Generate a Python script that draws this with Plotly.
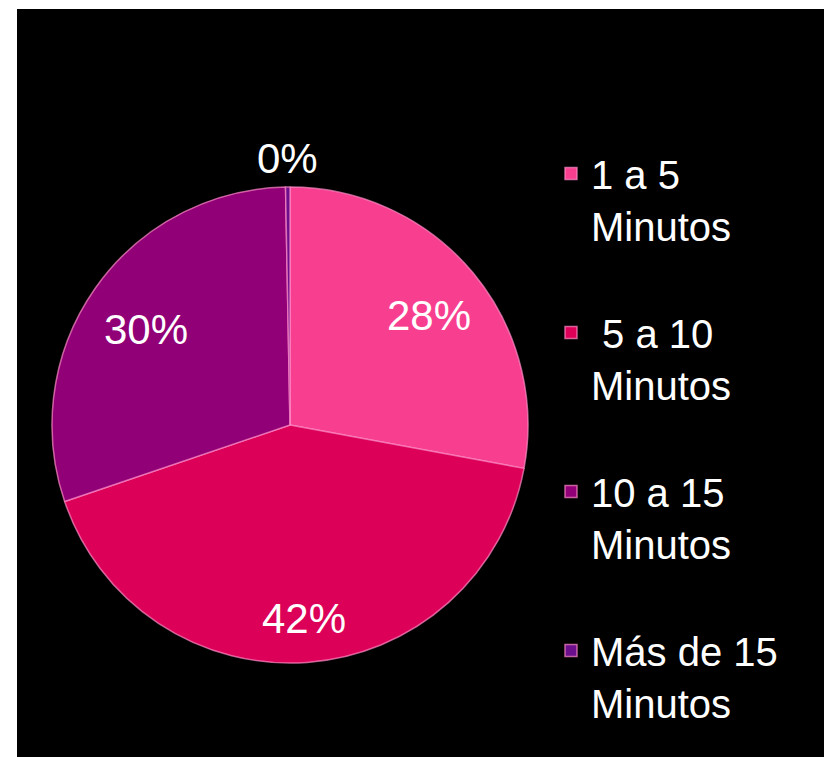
import math
import plotly.graph_objects as go

labels = ["1 a 5<br>Minutos<br> ", " 5 a 10<br>Minutos<br> ", "10 a 15<br>Minutos<br> ", "Más de 15<br>Minutos"]
values = [28, 42, 30, 0.3]
pct_labels = ["28%", "42%", "30%", "0%"]
colors = ["#F73E8F", "#DC0058", "#920077", "#6B0F8C"]
label_radius = [0.76, 0.79, 0.74, 1.12]  # fraction of pie radius for each label

# page body has an 8px margin; figure sized to fill the rest of the window
W, H = 824, 749
cx, cy, R = 282, 417, 238  # pie centre / radius in figure pixels

fig = go.Figure()
fig.add_trace(go.Pie(
    labels=labels,
    values=values,
    sort=False,
    direction="clockwise",
    rotation=0,
    marker=dict(colors=colors, line=dict(color="rgba(255,140,200,0.7)", width=1.5)),
    textinfo="none",
    domain=dict(x=[(cx - R) / W, (cx + R) / W], y=[(H - cy - R) / H, (H - cy + R) / H]),
    hoverinfo="label+percent",
))

total = sum(values)
annotations = []
cum = 0.0
for v, t, rf in zip(values, pct_labels, label_radius):
    mid = (cum + v / 2) / total * 2 * math.pi
    cum += v
    px = cx + rf * R * math.sin(mid)
    py = cy - rf * R * math.cos(mid)
    annotations.append(dict(
        x=px / W, y=1 - py / H, xref="paper", yref="paper",
        text=t, showarrow=False, xanchor="center", yanchor="middle",
        yshift=-6 if rf < 1 else 0,
        font=dict(family="Liberation Sans", size=42, color="white"),
    ))

fig.update_layout(
    width=W,
    height=H,
    margin=dict(l=0, r=0, t=0, b=0),
    paper_bgcolor="white",
    showlegend=True,
    annotations=annotations,
    legend=dict(
        x=543 / W,
        y=1 - 133 / H,
        xanchor="left",
        yanchor="top",
        valign="top",
        font=dict(family="Liberation Sans", size=40, color="white"),
        bgcolor="rgba(0,0,0,0)",
        itemclick=False,
    ),
    shapes=[dict(
        type="rect", xref="paper", yref="paper",
        x0=9 / W, x1=1, y0=0, y1=1 - 1 / H,
        fillcolor="black", line=dict(width=0), layer="below",
    )],
)

fig.write_html("out.html")
